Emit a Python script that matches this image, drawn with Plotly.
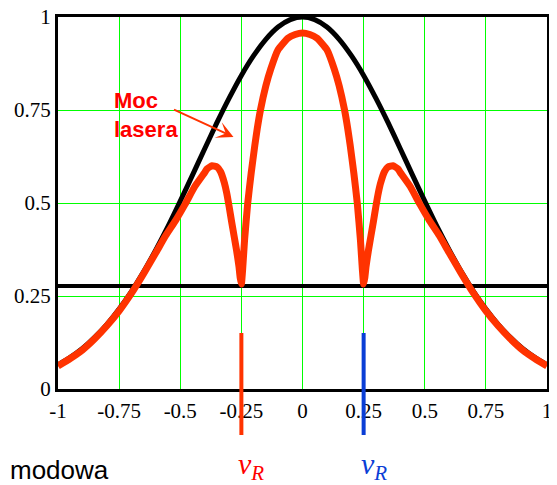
import plotly.graph_objects as go

# Black envelope curve (gain profile)
black_x = [-1.0, -0.95, -0.9, -0.85, -0.8, -0.75, -0.7, -0.65, -0.6, -0.55, -0.5,
           -0.45, -0.4, -0.35, -0.3, -0.25, -0.2, -0.15, -0.1, -0.05, 0.0,
           0.05, 0.1, 0.15, 0.2, 0.25, 0.3, 0.35, 0.4, 0.45, 0.5,
           0.55, 0.6, 0.65, 0.7, 0.75, 0.8, 0.85, 0.9, 0.95, 1.0]
black_y = [0.065, 0.085, 0.109, 0.139, 0.174, 0.215, 0.262, 0.315, 0.374, 0.437, 0.505,
           0.575, 0.646, 0.716, 0.782, 0.843, 0.896, 0.940, 0.973, 0.993, 1.0,
           0.993, 0.973, 0.940, 0.896, 0.843, 0.782, 0.716, 0.646, 0.575, 0.505,
           0.437, 0.374, 0.315, 0.262, 0.215, 0.174, 0.139, 0.109, 0.085, 0.065]

# Red curve (laser power, "Moc lasera")
red_x = [-1.0, -0.95, -0.9, -0.85, -0.8, -0.75, -0.7, -0.65, -0.6, -0.56, -0.52, -0.48,
         -0.44, -0.40, -0.39, -0.37, -0.35, -0.335, -0.32, -0.31, -0.30, -0.29, -0.28,
         -0.27, -0.26, -0.255, -0.25, -0.245, -0.237, -0.224, -0.21, -0.195, -0.185,
         -0.172, -0.15, -0.13, -0.10, -0.06, -0.03, 0.0,
         0.03, 0.06, 0.10, 0.13, 0.15, 0.172, 0.185, 0.195, 0.21, 0.224, 0.237, 0.245,
         0.25, 0.255, 0.26, 0.27, 0.28, 0.29, 0.30, 0.31, 0.32, 0.335, 0.35, 0.37,
         0.39, 0.40, 0.44, 0.48, 0.52, 0.56, 0.6, 0.65, 0.7, 0.75, 0.8, 0.85, 0.9,
         0.95, 1.0]
red_y = [0.062, 0.082, 0.105, 0.135, 0.170, 0.210, 0.257, 0.310, 0.366, 0.412, 0.452, 0.497,
         0.545, 0.582, 0.592, 0.600, 0.597, 0.584, 0.555, 0.527, 0.490, 0.450, 0.412,
         0.374, 0.330, 0.300, 0.282, 0.320, 0.400, 0.500, 0.580, 0.655, 0.700,
         0.750, 0.815, 0.860, 0.912, 0.943, 0.953, 0.957,
         0.953, 0.943, 0.912, 0.860, 0.815, 0.750, 0.700, 0.655, 0.580, 0.500, 0.400, 0.320,
         0.282, 0.300, 0.330, 0.374, 0.412, 0.450, 0.490, 0.527, 0.555, 0.584, 0.597, 0.600,
         0.592, 0.582, 0.545, 0.497, 0.452, 0.412, 0.366, 0.310, 0.257, 0.210, 0.170, 0.135, 0.105,
         0.082, 0.062]

threshold = 0.277          # horizontal black line level
nu_R = [-0.25, 0.25]       # marker positions
nu_colors = ["#FF3300", "#0A3ED6"]
nu_text_colors = ["#FF0000", "#0A3ED6"]

x_ticks = [-1, -0.75, -0.5, -0.25, 0, 0.25, 0.5, 0.75, 1]
x_ticktext = ["-1", "-0.75", "-0.5", "-0.25", "0", "0.25", "0.5", "0.75", "1"]
y_ticks = [0, 0.25, 0.5, 0.75, 1]
y_ticktext = ["0", "0.25", "0.5", "0.75", "1"]

fig = go.Figure()
fig.add_trace(go.Scatter(x=[x_ticks[0], x_ticks[-1]], y=[threshold, threshold], mode="lines",
                         line=dict(color="black", width=4), hoverinfo="skip"))
fig.add_trace(go.Scatter(x=black_x, y=black_y, mode="lines",
                         line=dict(color="black", width=5, shape="spline", smoothing=0.6)))
fig.add_trace(go.Scatter(x=red_x, y=red_y, mode="lines",
                         line=dict(color="#FF3300", width=7, shape="spline", smoothing=0.4)))

# The page body adds an 8px offset; the figure is sized/margined to compensate.
OFF = 8
H = 372.0
W = 489.0
def py(p):
    return (389 - p) / H
def px(p):
    return (p - 58) / W

shapes = []
annotations = []
for xv, c, tc in zip(nu_R, nu_colors, nu_text_colors):
    shapes.append(dict(type="line", xref="x", yref="paper", x0=xv, x1=xv,
                       y0=py(333), y1=py(435), line=dict(color=c, width=4)))
    annotations.append(dict(x=xv, xref="x", y=py(466), yref="paper", xanchor="left",
                            yanchor="middle", xshift=-5, showarrow=False,
                            text="<i>ν<sub>R</sub></i>",
                            font=dict(family="Liberation Serif", size=30, color=tc)))

annotations.append(dict(x=px(OFF), xref="paper", y=py(470), yref="paper",
                        xanchor="left", yanchor="middle", showarrow=False, text="modowa",
                        font=dict(family="Liberation Sans", size=26, color="black")))
annotations.append(dict(x=px(112), xref="paper", y=py(86), yref="paper",
                        xanchor="left", yanchor="top", align="left", showarrow=False,
                        text="<b>Moc<br>lasera</b>",
                        font=dict(family="Liberation Sans", size=22, color="#FF0000")))
annotations.append(dict(x=(233 - 302) / 244.5, xref="x", y=py(137), yref="paper",
                        ax=-61, ay=-28, text="", showarrow=True, arrowhead=3,
                        arrowsize=1.4, arrowwidth=2, arrowcolor="#FF3300", standoff=0))

fig.update_layout(
    width=557 - OFF, height=485 - OFF,
    margin=dict(l=58 - OFF, r=10, t=17 - OFF, b=96, autoexpand=False),
    paper_bgcolor="white", plot_bgcolor="white",
    showlegend=False,
    shapes=shapes, annotations=annotations,
    xaxis=dict(range=[-1, 1], tickvals=x_ticks, ticktext=x_ticktext, automargin=False,
               showgrid=True, gridcolor="#00FF00", gridwidth=1, zeroline=False,
               showline=True, linecolor="black", linewidth=3, mirror=True,
               ticks="", ticklabelstandoff=1, ticklabeloverflow="allow",
               tickfont=dict(family="Liberation Serif", size=21, color="black")),
    yaxis=dict(range=[0, 1], tickvals=y_ticks, ticktext=y_ticktext, automargin=False,
               showgrid=True, gridcolor="#00FF00", gridwidth=1, zeroline=False,
               showline=True, linecolor="black", linewidth=3, mirror=True,
               ticks="", ticklabelstandoff=0, ticklabeloverflow="allow",
               tickfont=dict(family="Liberation Serif", size=21, color="black")),
)

fig.write_html("out.html")
